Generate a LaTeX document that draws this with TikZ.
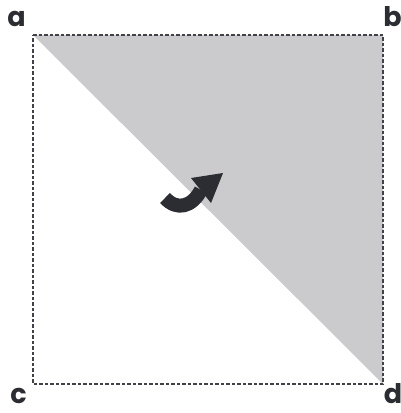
\documentclass[tikz,border=0pt]{standalone}
\usepackage{fontspec}
\setmainfont{Poppins}
\definecolor{tri}{HTML}{CBCBCD}
\definecolor{ink}{HTML}{2B2D33}
\begin{document}
\begin{tikzpicture}[x=1pt,y=-1pt,
  lbl/.style={font=\fontsize{27}{27}\selectfont\bfseries, text=ink, inner sep=0pt, anchor=base},
  frame/.style={draw=ink!90, line width=1.1pt, dash pattern=on 3.5pt off 2pt}]
\useasboundingbox (0,0) rectangle (401,413);
\coordinate (A) at (33,35);
\coordinate (B) at (383,35);
\coordinate (C) at (33,384);
\coordinate (D) at (383,384);
\fill[tri] (A) -- (B) -- (D) -- cycle;
\draw[frame] (A) -- (B) -- (D) -- (C) -- cycle;
\node[lbl] (la) at (16.5,26) {a};
\node[lbl] (lb) at (392.5,26) {b};
\node[lbl] (lc) at (18.5,403) {c};
\node[lbl] (ld) at (393,403) {d};
% curved arrow
\coordinate (t0) at (165,198);
\coordinate (h0) at (201,190);
\draw[ink, line width=14pt] (t0) .. controls (177,211) and (192,207) .. (h0);
\fill[ink] (191,178) -- (223,173) -- (211,203) -- cycle;
\end{tikzpicture}
\end{document}
